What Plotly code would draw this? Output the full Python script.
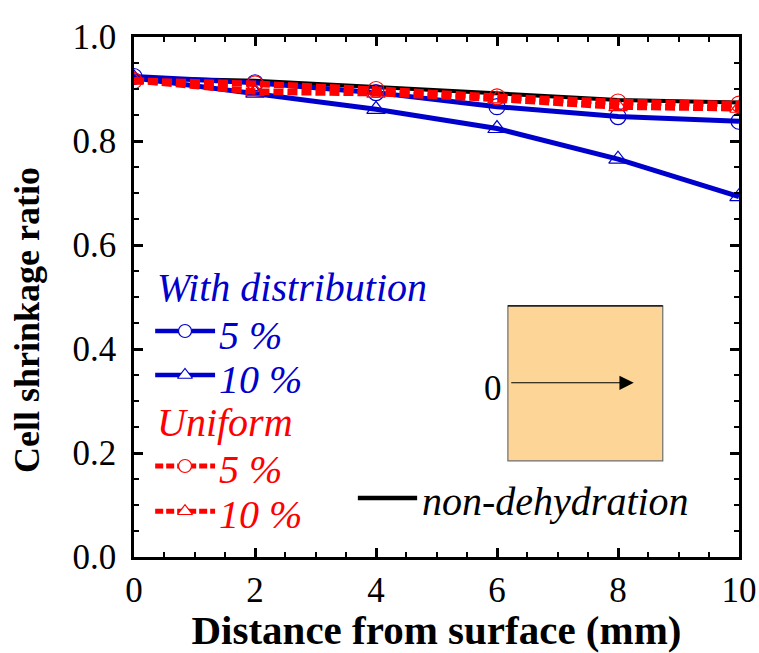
import plotly.graph_objects as go

# Distance from the surface (mm)
distance = [0, 2, 4, 6, 8, 10]

# Cell shrinkage ratio for each condition
dist_5 = [0.924, 0.912, 0.893, 0.866, 0.847, 0.838]
dist_10 = [0.921, 0.892, 0.861, 0.824, 0.765, 0.693]
unif_5 = [0.916, 0.910, 0.899, 0.885, 0.875, 0.871]
unif_10 = [0.917, 0.895, 0.892, 0.881, 0.866, 0.863]
non_dehydration = [0.921, 0.916, 0.904, 0.892, 0.879, 0.874]

BLUE = "#0000cc"
RED = "#ff0000"
SERIF = "Liberation Serif"
RED_DASH = "10px,4px"

fig = go.Figure()

# Main curves
fig.add_trace(go.Scatter(x=distance, y=non_dehydration, mode="lines",
                         line=dict(color="black", width=4)))
fig.add_trace(go.Scatter(x=distance, y=dist_5, mode="lines+markers",
                         line=dict(color=BLUE, width=5),
                         marker=dict(symbol="circle-open", size=16, color=BLUE, line=dict(width=1.2))))
fig.add_trace(go.Scatter(x=distance, y=dist_10, mode="lines+markers",
                         line=dict(color=BLUE, width=5),
                         marker=dict(symbol="triangle-up-open", size=16, color=BLUE, line=dict(width=1.2))))
fig.add_trace(go.Scatter(x=distance, y=unif_5, mode="lines+markers",
                         line=dict(color=RED, width=6.5, dash=RED_DASH),
                         marker=dict(symbol="circle-open", size=16, color=RED, line=dict(width=1.2))))
fig.add_trace(go.Scatter(x=distance, y=unif_10, mode="lines+markers",
                         line=dict(color=RED, width=6.5, dash=RED_DASH),
                         marker=dict(symbol="triangle-up-open", size=16, color=RED, line=dict(width=1.2))))

# Hand-drawn legend on an overlay axis spanning the plot area (0..1 both ways)
LEG_X0, LEG_X1, LEG_XM = 0.035, 0.134, 0.0843
legend_rows = [
    (0.4346, BLUE, None, "circle"),
    (0.3500, BLUE, None, "triangle-up"),
    (0.1750, RED, "8px,3px", "circle"),
    (0.0880, RED, "8px,3px", "triangle-up"),
]
for y, color, dash, symbol in legend_rows:
    width = 5 if dash else 4.5
    fig.add_trace(go.Scatter(x=[LEG_X0, LEG_X1], y=[y, y], mode="lines",
                             line=dict(color=color, width=width, dash=dash),
                             xaxis="x2", yaxis="y2"))
    fig.add_trace(go.Scatter(x=[LEG_XM], y=[y], mode="markers",
                             marker=dict(symbol=symbol, size=13, color="white",
                                         line=dict(width=1.2, color=color)),
                             xaxis="x2", yaxis="y2"))
fig.add_trace(go.Scatter(x=[0.370, 0.468], y=[0.1135, 0.1135], mode="lines",
                         line=dict(color="black", width=4.5), xaxis="x2", yaxis="y2"))

ann = []
def label(text, x, y, color, size=40, italic=True, xanchor="left"):
    ann.append(dict(text=f"<i>{text}</i>" if italic else text, x=x, y=y,
                    xref="paper", yref="paper", xanchor=xanchor, yanchor="middle",
                    showarrow=False, font=dict(family=SERIF, size=size, color=color)))

label("With distribution", 0.034, 0.519, BLUE)
label("5 %", 0.138, 0.426, BLUE)
label("10 %", 0.138, 0.342, BLUE)
label("Uniform", 0.034, 0.258, RED)
label("5 %", 0.138, 0.168, RED)
label("10 %", 0.138, 0.081, RED)
label("non-dehydration", 0.472, 0.106, "black")

# Y-axis title, placed a little below the plot-area centre
ann.append(dict(text="<b>Cell shrinkage ratio</b>", x=-0.176, y=0.455, xref="paper", yref="paper",
                xanchor="center", yanchor="middle", textangle=-90, showarrow=False,
                font=dict(family=SERIF, size=36, color="black")))

# Inset: specimen block with depth arrow starting at the surface
BOX = dict(x0=0.618, x1=0.874, y0=0.185, y1=0.483)
shapes = [
    dict(type="rect", xref="paper", yref="paper", **BOX,
         fillcolor="#fdd597", line=dict(color="#6e6e6e", width=1.2), layer="above"),
    dict(type="line", xref="paper", yref="paper", x0=BOX["x0"], x1=BOX["x1"],
         y0=BOX["y1"], y1=BOX["y1"], line=dict(color="black", width=1.2)),
]
ann.append(dict(x=0.826, y=0.335, xref="paper", yref="paper", ax=-124, ay=0,
                showarrow=True, arrowhead=2, arrowsize=2.6, arrowwidth=1.1,
                arrowcolor="black", text=""))
label("0", 0.612, 0.325, "black", size=35, italic=False, xanchor="right")

axis_common = dict(showline=True, linecolor="black", linewidth=2.5, mirror="allticks",
                   ticks="inside", ticklen=9, tickwidth=2.5, tickcolor="black",
                   showgrid=False, zeroline=False, automargin=False,
                   tickfont=dict(family=SERIF, size=35, color="black"))

fig.update_layout(
    width=759, height=653,
    margin=dict(l=134, r=20, t=37, b=96),
    paper_bgcolor="white", plot_bgcolor="white",
    showlegend=False,
    font=dict(family=SERIF),
    xaxis=dict(range=[0, 10], tickvals=[0, 2, 4, 6, 8, 10], ticktext=["0", "2", "4", "6", "8", "10"],
               minor=dict(dtick=0.5, ticks="inside", ticklen=5, tickwidth=2, tickcolor="black"),
               title=dict(text="<b>Distance from surface (mm)</b>", standoff=15,
                          font=dict(family=SERIF, size=41, color="black")),
               **axis_common),
    yaxis=dict(range=[0, 1], tickvals=[0, 0.2, 0.4, 0.6, 0.8, 1.0],
               ticktext=["0.0", "0.2", "0.4", "0.6", "0.8", "1.0"],
               ticklabelstandoff=8,
               minor=dict(dtick=0.05, ticks="inside", ticklen=5, tickwidth=2, tickcolor="black"),
               **axis_common),
    xaxis2=dict(range=[0, 1], overlaying="x", visible=False),
    yaxis2=dict(range=[0, 1], overlaying="y", visible=False),
    annotations=ann,
    shapes=shapes,
)

fig.write_html("out.html")
